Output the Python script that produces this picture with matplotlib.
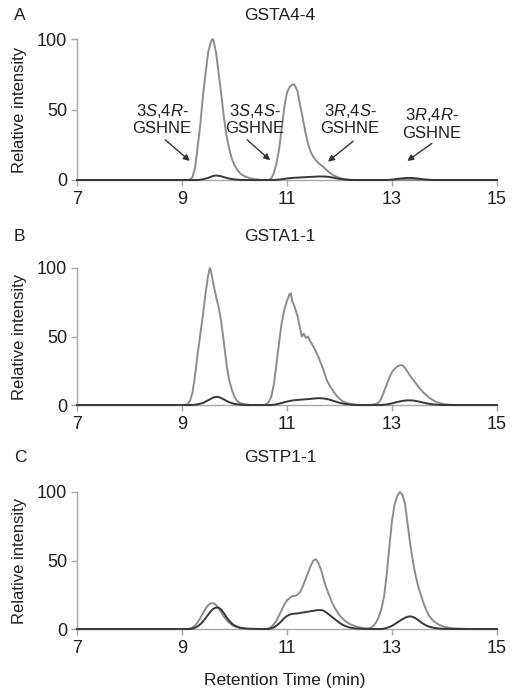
import matplotlib
matplotlib.use("Agg")
import matplotlib.pyplot as plt

plt.rcParams['font.family'] = ['Liberation Sans', 'DejaVu Sans']
plt.rcParams['mathtext.fontset'] = 'custom'
plt.rcParams['mathtext.rm'] = 'Liberation Sans'
plt.rcParams['mathtext.it'] = 'Liberation Sans:italic'

# ---------------- data (retention time [min], relative intensity) ----------------
panel_letters = ["A", "B", "C"]
panel_titles = ["GSTA4-4", "GSTA1-1", "GSTP1-1"]
x_ticks = [7, 9, 11, 13, 15]
y_ticks = [0, 50, 100]

a_gray = [(7.0, 0), (9.10, 0), (9.15, 0.3), (9.20, 2), (9.25, 9), (9.30, 24), (9.35, 40),
          (9.40, 60), (9.45, 76), (9.50, 91), (9.55, 98), (9.58, 100), (9.60, 99), (9.65, 90),
          (9.70, 75), (9.75, 60), (9.80, 44), (9.85, 31), (9.90, 22), (9.95, 15), (10.00, 10.5),
          (10.05, 7.5), (10.10, 5), (10.15, 3.5), (10.20, 2.5), (10.30, 1.2), (10.40, 0.5),
          (10.50, 0.1), (10.65, 0), (10.70, 1), (10.75, 5), (10.80, 12), (10.85, 22),
          (10.90, 37), (10.95, 52), (11.00, 62), (11.05, 66), (11.10, 67.5), (11.13, 68),
          (11.15, 67), (11.20, 63), (11.25, 53), (11.30, 44), (11.35, 34), (11.40, 26),
          (11.45, 20), (11.50, 16.5), (11.55, 14), (11.60, 12), (11.70, 9), (11.80, 5.5),
          (11.90, 3), (12.00, 1.5), (12.10, 0.6), (12.20, 0.2), (12.30, 0), (15.0, 0)]
a_dark = [(7.0, 0), (9.30, 0), (9.40, 0.5), (9.50, 1.5), (9.55, 2.3), (9.60, 2.9), (9.65, 3.2),
          (9.70, 3), (9.75, 2.6), (9.80, 2), (9.90, 1), (10.00, 0.4), (10.10, 0.1), (10.20, 0),
          (10.75, 0), (10.85, 0.3), (10.95, 0.8), (11.05, 1.3), (11.15, 1.6), (11.30, 1.9),
          (11.45, 2.2), (11.60, 2.5), (11.70, 2.5), (11.80, 2.2), (11.90, 1.5), (12.00, 0.8),
          (12.10, 0.3), (12.20, 0), (12.90, 0), (13.00, 0.3), (13.10, 0.8), (13.20, 1.2),
          (13.30, 1.5), (13.40, 1.4), (13.50, 1.0), (13.60, 0.5), (13.70, 0.2), (13.80, 0),
          (15.0, 0)]

b_gray = [(7.0, 0), (9.05, 0), (9.10, 0.5), (9.15, 3), (9.20, 9), (9.25, 22), (9.30, 38),
          (9.35, 52), (9.40, 66), (9.45, 82), (9.50, 95), (9.53, 100), (9.55, 98), (9.60, 88),
          (9.65, 79), (9.70, 71), (9.75, 60), (9.80, 45), (9.85, 29), (9.90, 18), (9.95, 11),
          (10.00, 6), (10.05, 3), (10.10, 1.5), (10.20, 0.5), (10.30, 0), (10.55, 0),
          (10.60, 0.5), (10.65, 2), (10.70, 6), (10.75, 15), (10.80, 30), (10.85, 46),
          (10.90, 60), (10.95, 70), (11.00, 76), (11.05, 81), (11.07, 81.5), (11.10, 76),
          (11.15, 71), (11.20, 65), (11.25, 56), (11.28, 50), (11.32, 52), (11.36, 49),
          (11.40, 50), (11.45, 46), (11.50, 43), (11.55, 39), (11.60, 35), (11.65, 30),
          (11.70, 25), (11.75, 19), (11.80, 15), (11.85, 12), (11.90, 9), (11.95, 6.5),
          (12.00, 4.5), (12.05, 3), (12.10, 2), (12.20, 0.8), (12.30, 0.3), (12.40, 0),
          (12.60, 0), (12.70, 0.8), (12.75, 2), (12.80, 5), (12.85, 10), (12.90, 15),
          (12.95, 20), (13.00, 24), (13.05, 26.5), (13.10, 28), (13.15, 29), (13.20, 29),
          (13.25, 27), (13.30, 24), (13.35, 21), (13.40, 18.5), (13.45, 16), (13.50, 13.5),
          (13.55, 11), (13.60, 9), (13.70, 5.5), (13.80, 3), (13.90, 1.5), (14.00, 0.6),
          (14.10, 0.2), (14.20, 0), (15.0, 0)]
b_dark = [(7.0, 0), (9.20, 0), (9.30, 0.5), (9.40, 1.5), (9.50, 3.5), (9.55, 4.5), (9.60, 5.5),
          (9.65, 6), (9.70, 5.8), (9.75, 5), (9.80, 4), (9.90, 2), (10.00, 0.8), (10.10, 0.3),
          (10.20, 0), (10.70, 0), (10.80, 0.5), (10.90, 1.5), (11.00, 2.5), (11.10, 3.3),
          (11.20, 3.7), (11.30, 4), (11.40, 4.3), (11.50, 4.7), (11.60, 5), (11.70, 4.8),
          (11.80, 4), (11.90, 2.8), (12.00, 1.6), (12.10, 0.8), (12.20, 0.3), (12.30, 0),
          (12.80, 0), (12.90, 0.4), (13.00, 1.2), (13.10, 2.2), (13.20, 3), (13.30, 3.4),
          (13.40, 3.3), (13.50, 2.6), (13.60, 1.7), (13.70, 0.9), (13.80, 0.4), (13.90, 0.1),
          (14.00, 0), (15.0, 0)]

c_gray = [(7.0, 0), (9.10, 0), (9.15, 0.3), (9.20, 1), (9.25, 2.5), (9.30, 5), (9.35, 8),
          (9.40, 11.5), (9.45, 15), (9.50, 17.5), (9.55, 18.8), (9.60, 18.8), (9.65, 17.5),
          (9.70, 15), (9.75, 12), (9.80, 9), (9.85, 6.5), (9.90, 4.5), (9.95, 3), (10.00, 2),
          (10.10, 0.8), (10.20, 0.3), (10.30, 0), (10.60, 0), (10.65, 0.5), (10.70, 1.5),
          (10.75, 3.5), (10.80, 6), (10.85, 10), (10.90, 14), (10.95, 18), (11.00, 21),
          (11.05, 22.5), (11.10, 24), (11.15, 24), (11.20, 25), (11.25, 27), (11.30, 31),
          (11.35, 36), (11.40, 41), (11.45, 46), (11.50, 50), (11.55, 51), (11.60, 48),
          (11.65, 43), (11.70, 36), (11.75, 30), (11.80, 25), (11.85, 20), (11.90, 16),
          (11.95, 13), (12.00, 10), (12.05, 8), (12.10, 6), (12.20, 3.5), (12.30, 2),
          (12.40, 1), (12.50, 0.4), (12.55, 0.5), (12.60, 1), (12.65, 2.5), (12.70, 5),
          (12.75, 9), (12.80, 15), (12.85, 24), (12.90, 40), (12.95, 60), (13.00, 79),
          (13.05, 91), (13.10, 97), (13.15, 100), (13.20, 98), (13.25, 91), (13.30, 76),
          (13.35, 61), (13.40, 49), (13.45, 39), (13.50, 31), (13.55, 25), (13.60, 19),
          (13.65, 14), (13.70, 10), (13.75, 7.5), (13.80, 5.5), (13.90, 3), (14.00, 1.5),
          (14.10, 0.8), (14.20, 0.4), (14.40, 0.1), (14.60, 0), (15.0, 0)]
c_dark = [(7.0, 0), (9.15, 0), (9.20, 0.3), (9.25, 1), (9.30, 2), (9.35, 3.5), (9.40, 5.5),
          (9.45, 8), (9.50, 10.5), (9.55, 13), (9.60, 14.8), (9.65, 15.7), (9.70, 15.5),
          (9.75, 14), (9.80, 11.5), (9.85, 8.5), (9.90, 6), (9.95, 4), (10.00, 2.5),
          (10.10, 1), (10.20, 0.4), (10.30, 0.2), (10.50, 0), (10.65, 0), (10.70, 0.5),
          (10.75, 1.2), (10.80, 2.5), (10.85, 4), (10.90, 6), (10.95, 8), (11.00, 9.5),
          (11.05, 10.5), (11.10, 11), (11.15, 11.2), (11.20, 11.4), (11.25, 11.7), (11.30, 12),
          (11.35, 12.3), (11.40, 12.6), (11.45, 13), (11.50, 13.3), (11.55, 13.6), (11.60, 13.8),
          (11.65, 13.8), (11.70, 13.3), (11.75, 12), (11.80, 10.5), (11.85, 9), (11.90, 7.5),
          (11.95, 6), (12.00, 4.5), (12.05, 3.3), (12.10, 2.3), (12.20, 1), (12.30, 0.4),
          (12.40, 0.2), (12.50, 0), (12.80, 0), (12.85, 0.3), (12.90, 0.8), (12.95, 1.5),
          (13.00, 2.3), (13.05, 3.5), (13.10, 4.7), (13.15, 6), (13.20, 7.2), (13.25, 8.2),
          (13.30, 9), (13.35, 9.2), (13.40, 8.8), (13.45, 7.8), (13.50, 6.5), (13.55, 5),
          (13.60, 3.7), (13.65, 2.6), (13.70, 1.8), (13.80, 0.8), (13.90, 0.3), (14.00, 0.1),
          (14.10, 0), (15.0, 0)]

gray_traces = [a_gray, b_gray, c_gray]
dark_traces = [a_dark, b_dark, c_dark]

# isomer annotations (panel A): label, label position (t, y), arrow tail / tip (t, y)
iso_labels = ["3$\\mathit{S}$,4$\\mathit{R}$-\nGSHNE", "3$\\mathit{S}$,4$\\mathit{S}$-\nGSHNE",
              "3$\\mathit{R}$,4$\\mathit{S}$-\nGSHNE", "3$\\mathit{R}$,4$\\mathit{R}$-\nGSHNE"]
iso_text_pos = [(8.62, 43), (10.39, 43), (12.20, 43), (13.76, 40)]
iso_tail = [(8.68, 28.5), (10.24, 28.5), (12.26, 27.5), (13.76, 26)]
iso_tip = [(9.15, 13.5), (10.68, 14), (11.78, 13), (13.29, 13.5)]

# ---------------- figure ----------------
W, H = 512, 700
fig = plt.figure(figsize=(W / 100, H / 100), dpi=100)

# axes boxes in pixel coords: (left, right, y_of_0, y_of_100)
boxes = [(77, 497, 180, 39), (77, 497, 405, 268), (77, 497, 629, 492)]
title_y = [15, 237, 457]

GRAY = "#8c8c8c"
DARK = "#383838"
SPINE = "#a8a8a8"
TXT = "#1e1e1e"

axes = []
for i, (l, r, y0, y1) in enumerate(boxes):
    ax = fig.add_axes([l / W, 1 - y0 / H, (r - l) / W, (y0 - y1) / H])
    axes.append(ax)
    gt, gv = zip(*gray_traces[i])
    dt, dv = zip(*dark_traces[i])
    ax.plot(gt, gv, color=GRAY, lw=1.4, clip_on=False, zorder=3)
    ax.plot(dt, dv, color=DARK, lw=1.4, clip_on=False, zorder=4)
    ax.set_xlim(7, 15)
    ax.set_ylim(0, 100)
    ax.set_xticks(x_ticks)
    ax.set_yticks(y_ticks)
    for s in ("top", "right"):
        ax.spines[s].set_visible(False)
    for s in ("left", "bottom"):
        ax.spines[s].set_color(SPINE)
        ax.spines[s].set_linewidth(1.0)
    ax.tick_params(axis="both", colors=SPINE, labelcolor=TXT, labelsize=13,
                   length=4, width=1.0, direction="out")
    ax.tick_params(axis="x", pad=4)
    ax.tick_params(axis="y", pad=3)
    ax.set_ylabel("Relative intensity", fontsize=12, color=TXT, labelpad=7)
    ax.patch.set_visible(False)

    fig.text(14 / W, 1 - title_y[i] / H, panel_letters[i], fontsize=12.5,
             color=TXT, ha="left", va="center")
    fig.text(280 / W, 1 - title_y[i] / H, panel_titles[i], fontsize=12.5,
             color=TXT, ha="center", va="center")

# annotations on panel A
axA = axes[0]
for lab, tp, tail, tip in zip(iso_labels, iso_text_pos, iso_tail, iso_tip):
    axA.text(tp[0], tp[1], lab, ha="center", va="center", fontsize=12,
             color=TXT, linespacing=1.1, zorder=5)
    axA.annotate("", xy=tip, xytext=tail,
                 arrowprops=dict(arrowstyle="-|>", color="#333333", lw=1.0,
                                 mutation_scale=9, shrinkA=0, shrinkB=0))

fig.text(285 / W, 1 - 680 / H, "Retention Time (min)", fontsize=12.5,
         color=TXT, ha="center", va="center")

fig.savefig("out.png", dpi=100, facecolor="white")
